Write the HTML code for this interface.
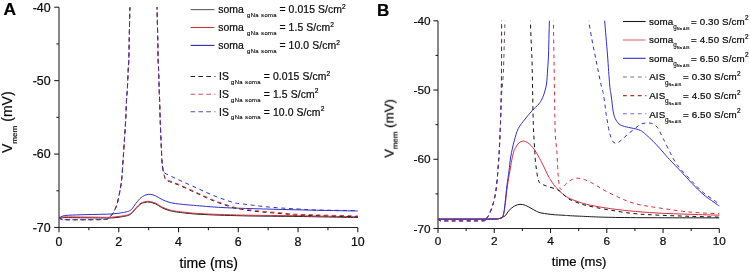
<!DOCTYPE html>
<html><head><meta charset="utf-8"><style>
html,body{margin:0;padding:0;background:#fff;}
body{width:750px;height:273px;overflow:hidden;font-family:"Liberation Sans",sans-serif;}
svg{display:block;}
text{will-change:transform;stroke:#000;stroke-width:0.22px;}
.sub{stroke-width:0.15px;}
</style></head><body>
<svg width="750" height="273" viewBox="0 0 750 273">
<rect width="750" height="273" fill="#fff"/>
<g stroke="#222" stroke-width="1.1" fill="none">
<path d="M59.0 7.2 V227.5 H357.8" stroke="#262626"/>
<path d="M54.20 7.20 H59.0"/>
<path d="M54.20 80.63 H59.0"/>
<path d="M54.20 154.07 H59.0"/>
<path d="M54.20 227.50 H59.0"/>
<path d="M56.40 43.92 H59.0"/>
<path d="M56.40 117.35 H59.0"/>
<path d="M56.40 190.78 H59.0"/>
<path d="M59.00 227.5 V232.30"/>
<path d="M118.76 227.5 V232.30"/>
<path d="M178.52 227.5 V232.30"/>
<path d="M238.28 227.5 V232.30"/>
<path d="M298.04 227.5 V232.30"/>
<path d="M357.80 227.5 V232.30"/>
<path d="M88.88 227.5 V230.30"/>
<path d="M148.64 227.5 V230.30"/>
<path d="M208.40 227.5 V230.30"/>
<path d="M268.16 227.5 V230.30"/>
<path d="M327.92 227.5 V230.30"/>
</g>
<g font-family="Liberation Sans, sans-serif" font-size="12.4" fill="#111">
<text x="50.6" y="11.50" text-anchor="end">-40</text>
<text x="50.6" y="84.93" text-anchor="end">-50</text>
<text x="50.6" y="158.37" text-anchor="end">-60</text>
<text x="50.6" y="231.80" text-anchor="end">-70</text>
<text x="59.00" y="245.6" text-anchor="middle">0</text>
<text x="118.76" y="245.6" text-anchor="middle">2</text>
<text x="178.52" y="245.6" text-anchor="middle">4</text>
<text x="238.28" y="245.6" text-anchor="middle">6</text>
<text x="298.04" y="245.6" text-anchor="middle">8</text>
<text x="357.80" y="245.6" text-anchor="middle">10</text>
</g>
<text font-family="Liberation Sans, sans-serif" font-size="17.4" font-weight="bold" x="3.5" y="15.4">A</text>
<text font-family="Liberation Sans, sans-serif" font-size="14" x="179.6" y="267.9">time (ms)</text>
<g transform="translate(12.1 153.0) rotate(-90)"><text font-family="Liberation Sans, sans-serif" font-size="14" x="0" y="0">V<tspan font-size="8.1" dy="5.2">mem</tspan><tspan dy="-5.2"> (mV)</tspan></text></g>
<defs><clipPath id="ca"><rect x="59" y="7.2" width="300" height="221"/></clipPath><clipPath id="cb"><rect x="438" y="20.8" width="282" height="208"/></clipPath></defs>
<g clip-path="url(#ca)" fill="none" stroke-width="1.0">
<path d="M59.00 218.60 C59.50 218.48 60.83 218.07 62.00 217.90 C63.17 217.73 60.33 217.60 66.00 217.60 C71.67 217.60 88.83 217.83 96.00 217.90 C103.17 217.97 105.33 218.10 109.00 218.00 C112.67 217.90 115.37 217.60 118.00 217.30 C120.63 217.00 123.05 216.53 124.80 216.20 C126.55 215.87 127.38 215.75 128.50 215.30 C129.62 214.85 130.25 214.63 131.50 213.50 C132.75 212.37 134.40 210.13 136.00 208.50 C137.60 206.87 139.43 204.73 141.10 203.70 C142.77 202.67 144.68 202.57 146.00 202.30 C147.32 202.03 147.38 201.83 149.00 202.10 C150.62 202.37 153.60 203.00 155.70 203.90 C157.80 204.80 159.40 206.42 161.60 207.50 C163.80 208.58 166.12 209.62 168.90 210.40 C171.68 211.18 173.12 211.55 178.30 212.20 C183.48 212.85 189.28 213.70 200.00 214.30 C210.72 214.90 225.93 215.43 242.60 215.80 C259.27 216.17 280.80 216.22 300.00 216.50 C319.20 216.78 348.17 217.33 357.80 217.50" stroke="#1a1a1a"/>
<path d="M59.00 217.90 C59.50 217.78 60.83 217.37 62.00 217.20 C63.17 217.03 60.33 216.90 66.00 216.90 C71.67 216.90 88.83 217.13 96.00 217.20 C103.17 217.27 105.33 217.40 109.00 217.30 C112.67 217.20 115.37 216.90 118.00 216.60 C120.63 216.30 123.05 215.83 124.80 215.50 C126.55 215.17 127.38 215.05 128.50 214.60 C129.62 214.15 130.25 213.93 131.50 212.80 C132.75 211.67 134.40 209.43 136.00 207.80 C137.60 206.17 139.43 204.03 141.10 203.00 C142.77 201.97 144.68 201.87 146.00 201.60 C147.32 201.33 147.38 201.13 149.00 201.40 C150.62 201.67 153.60 202.30 155.70 203.20 C157.80 204.10 159.40 205.72 161.60 206.80 C163.80 207.88 166.12 208.92 168.90 209.70 C171.68 210.48 173.12 210.85 178.30 211.50 C183.48 212.15 189.28 213.00 200.00 213.60 C210.72 214.20 225.93 214.73 242.60 215.10 C259.27 215.47 280.80 215.52 300.00 215.80 C319.20 216.08 348.17 216.63 357.80 216.80" stroke="#d8303c"/>
<path d="M59.00 217.90 C59.50 217.63 60.83 216.72 62.00 216.30 C63.17 215.88 63.00 215.65 66.00 215.40 C69.00 215.15 75.00 214.97 80.00 214.80 C85.00 214.63 91.17 214.52 96.00 214.40 C100.83 214.28 105.33 214.28 109.00 214.10 C112.67 213.92 115.37 213.62 118.00 213.30 C120.63 212.98 123.05 212.55 124.80 212.20 C126.55 211.85 127.38 211.65 128.50 211.20 C129.62 210.75 130.25 210.82 131.50 209.50 C132.75 208.18 134.40 205.28 136.00 203.30 C137.60 201.32 139.43 199.00 141.10 197.60 C142.77 196.20 144.42 195.43 146.00 194.90 C147.58 194.37 148.98 194.23 150.60 194.40 C152.22 194.57 153.87 195.08 155.70 195.90 C157.53 196.72 159.40 198.25 161.60 199.30 C163.80 200.35 166.12 201.43 168.90 202.20 C171.68 202.97 173.68 203.33 178.30 203.90 C182.92 204.47 187.98 204.93 196.60 205.60 C205.22 206.27 212.77 207.18 230.00 207.90 C247.23 208.62 278.70 209.38 300.00 209.90 C321.30 210.42 348.17 210.82 357.80 211.00" stroke="#3030c8"/>
<path d="M59.00 217.90 C59.42 218.12 60.33 218.90 61.50 219.20 C62.67 219.50 59.58 219.63 66.00 219.70 C72.42 219.77 93.25 219.67 100.00 219.60 C106.75 219.53 105.00 219.63 106.50 219.30 C108.00 218.97 108.18 218.27 109.00 217.60 C109.82 216.93 110.60 216.27 111.40 215.30 C112.20 214.33 112.87 213.63 113.80 211.80 C114.73 209.97 116.03 207.52 117.00 204.30 C117.97 201.08 118.83 196.55 119.60 192.50 C120.37 188.45 121.02 185.42 121.60 180.00 C122.18 174.58 122.63 166.67 123.10 160.00 C123.57 153.33 123.97 146.67 124.40 140.00 C124.83 133.33 125.35 126.67 125.70 120.00 C126.05 113.33 126.23 105.00 126.50 100.00 C126.77 95.00 127.02 95.00 127.30 90.00 C127.58 85.00 127.95 75.00 128.20 70.00 C128.45 65.00 128.63 65.00 128.80 60.00 C128.97 55.00 129.02 48.80 129.20 40.00 C129.38 31.20 129.75 14.20 129.90 7.20 C130.05 0.20 130.07 -0.47 130.10 -2.00" stroke="#1a1a1a" stroke-dasharray="4 3.7" stroke-dashoffset="0"/>
<path d="M156.80 -2.00 C156.83 -0.47 156.83 0.20 157.00 7.20 C157.17 14.20 157.62 31.20 157.80 40.00 C157.98 48.80 157.97 55.00 158.10 60.00 C158.23 65.00 158.42 65.00 158.60 70.00 C158.78 75.00 159.03 85.00 159.20 90.00 C159.37 95.00 159.43 95.00 159.60 100.00 C159.77 105.00 159.97 113.33 160.20 120.00 C160.43 126.67 160.72 133.33 161.00 140.00 C161.28 146.67 161.63 155.50 161.90 160.00 C162.17 164.50 162.35 165.08 162.60 167.00 C162.85 168.92 163.12 170.08 163.40 171.50 C163.68 172.92 163.78 174.05 164.30 175.50 C164.82 176.95 164.17 178.63 166.50 180.20 C168.83 181.77 173.28 182.73 178.30 184.90 C183.32 187.07 190.50 190.45 196.60 193.20 C202.70 195.95 208.75 198.98 214.90 201.40 C221.05 203.82 229.03 206.37 233.50 207.70 C237.97 209.03 238.38 208.83 241.70 209.40 C245.02 209.97 249.48 210.62 253.40 211.10 C257.32 211.58 261.28 211.95 265.20 212.30 C269.12 212.65 273.00 212.87 276.90 213.20 C280.80 213.53 284.75 213.98 288.60 214.30 C292.45 214.62 288.47 214.70 300.00 215.10 C311.53 215.50 348.17 216.43 357.80 216.70" stroke="#1a1a1a" stroke-dasharray="4 3.7" stroke-dashoffset="0"/>
<path d="M59.00 217.90 C59.42 218.12 60.33 218.90 61.50 219.20 C62.67 219.50 59.58 219.63 66.00 219.70 C72.42 219.77 93.25 219.67 100.00 219.60 C106.75 219.53 105.00 219.63 106.50 219.30 C108.00 218.97 108.18 218.27 109.00 217.60 C109.82 216.93 110.60 216.27 111.40 215.30 C112.20 214.33 112.87 213.63 113.80 211.80 C114.73 209.97 116.03 207.52 117.00 204.30 C117.97 201.08 118.83 196.55 119.60 192.50 C120.37 188.45 121.02 185.42 121.60 180.00 C122.18 174.58 122.63 166.67 123.10 160.00 C123.57 153.33 123.97 146.67 124.40 140.00 C124.83 133.33 125.35 126.67 125.70 120.00 C126.05 113.33 126.23 105.00 126.50 100.00 C126.77 95.00 127.02 95.00 127.30 90.00 C127.58 85.00 127.95 75.00 128.20 70.00 C128.45 65.00 128.63 65.00 128.80 60.00 C128.97 55.00 129.02 48.80 129.20 40.00 C129.38 31.20 129.75 14.20 129.90 7.20 C130.05 0.20 130.07 -0.47 130.10 -2.00" stroke="#d8303c" stroke-dasharray="4 3.7" stroke-dashoffset="0"/>
<path d="M156.80 -2.00 C156.83 -0.47 156.83 0.20 157.00 7.20 C157.17 14.20 157.62 31.20 157.80 40.00 C157.98 48.80 157.97 55.00 158.10 60.00 C158.23 65.00 158.42 65.00 158.60 70.00 C158.78 75.00 159.03 85.00 159.20 90.00 C159.37 95.00 159.43 95.00 159.60 100.00 C159.77 105.00 159.97 113.33 160.20 120.00 C160.43 126.67 160.72 133.33 161.00 140.00 C161.28 146.67 161.63 155.50 161.90 160.00 C162.17 164.50 162.35 165.08 162.60 167.00 C162.85 168.92 163.12 170.08 163.40 171.50 C163.68 172.92 163.78 174.17 164.30 175.50 C164.82 176.83 164.17 178.05 166.50 179.50 C168.83 180.95 173.28 182.03 178.30 184.20 C183.32 186.37 190.50 189.75 196.60 192.50 C202.70 195.25 208.75 198.28 214.90 200.70 C221.05 203.12 229.03 205.67 233.50 207.00 C237.97 208.33 238.38 208.13 241.70 208.70 C245.02 209.27 249.48 209.92 253.40 210.40 C257.32 210.88 261.28 211.25 265.20 211.60 C269.12 211.95 273.00 212.17 276.90 212.50 C280.80 212.83 284.75 213.28 288.60 213.60 C292.45 213.92 288.47 214.00 300.00 214.40 C311.53 214.80 348.17 215.73 357.80 216.00" stroke="#d8303c" stroke-dasharray="4 3.7" stroke-dashoffset="0"/>
<path d="M59.00 217.90 C59.42 218.12 60.33 218.90 61.50 219.20 C62.67 219.50 59.58 219.63 66.00 219.70 C72.42 219.77 93.25 219.67 100.00 219.60 C106.75 219.53 105.00 219.63 106.50 219.30 C108.00 218.97 108.18 218.27 109.00 217.60 C109.82 216.93 110.60 216.27 111.40 215.30 C112.20 214.33 112.87 213.63 113.80 211.80 C114.73 209.97 116.03 207.52 117.00 204.30 C117.97 201.08 118.83 196.55 119.60 192.50 C120.37 188.45 121.02 185.42 121.60 180.00 C122.18 174.58 122.63 166.67 123.10 160.00 C123.57 153.33 123.97 146.67 124.40 140.00 C124.83 133.33 125.35 126.67 125.70 120.00 C126.05 113.33 126.23 105.00 126.50 100.00 C126.77 95.00 127.02 95.00 127.30 90.00 C127.58 85.00 127.95 75.00 128.20 70.00 C128.45 65.00 128.63 65.00 128.80 60.00 C128.97 55.00 129.02 48.80 129.20 40.00 C129.38 31.20 129.75 14.20 129.90 7.20 C130.05 0.20 130.07 -0.47 130.10 -2.00" stroke="#3030c8" stroke-dasharray="4 3.7" stroke-dashoffset="1.5"/>
<path d="M156.80 -2.00 C156.83 -0.47 156.83 0.20 157.00 7.20 C157.17 14.20 157.62 31.20 157.80 40.00 C157.98 48.80 157.97 55.00 158.10 60.00 C158.23 65.00 158.42 65.00 158.60 70.00 C158.78 75.00 159.03 85.00 159.20 90.00 C159.37 95.00 159.43 95.00 159.60 100.00 C159.77 105.00 159.97 113.33 160.20 120.00 C160.43 126.67 160.72 133.33 161.00 140.00 C161.28 146.67 161.63 155.50 161.90 160.00 C162.17 164.50 162.35 165.08 162.60 167.00 C162.85 168.92 163.00 170.47 163.40 171.50 C163.80 172.53 163.90 172.50 165.00 173.20 C166.10 173.90 167.78 174.62 170.00 175.70 C172.22 176.78 173.87 177.67 178.30 179.70 C182.73 181.73 190.50 185.17 196.60 187.90 C202.70 190.63 208.78 193.67 214.90 196.10 C221.02 198.53 228.83 201.22 233.30 202.50 C237.77 203.78 238.35 203.33 241.70 203.80 C245.05 204.27 249.48 204.82 253.40 205.30 C257.32 205.78 261.28 206.30 265.20 206.70 C269.12 207.10 273.00 207.40 276.90 207.70 C280.80 208.00 284.75 208.27 288.60 208.50 C292.45 208.73 295.32 208.85 300.00 209.10 C304.68 209.35 307.07 209.75 316.70 210.00 C326.33 210.25 350.95 210.50 357.80 210.60" stroke="#3030c8" stroke-dasharray="4 3.7" stroke-dashoffset="1.5"/>
</g>
<path d="M190.6 9.6 H214.4" stroke="#606060" stroke-width="1.1"/>
<text font-family="Liberation Sans, sans-serif" font-size="10.4" letter-spacing="0.1" fill="#111" x="218.2" y="13.40">soma</text>
<text font-family="Liberation Sans, sans-serif" class="sub" font-size="5.9" letter-spacing="0.4" fill="#1a1a1a" x="247.0" y="16.90">gNa soma</text>
<text font-family="Liberation Sans, sans-serif" font-size="10.4" letter-spacing="0.1" fill="#111" x="279.4" y="13.40">= 0.015 S/cm<tspan font-size="6.6" dy="-4.7">2</tspan></text>
<path d="M190.6 27.5 H214.4" stroke="#c03838" stroke-width="1.1"/>
<text font-family="Liberation Sans, sans-serif" font-size="10.4" letter-spacing="0.1" fill="#111" x="218.2" y="31.30">soma</text>
<text font-family="Liberation Sans, sans-serif" class="sub" font-size="5.9" letter-spacing="0.4" fill="#1a1a1a" x="247.0" y="34.80">gNa soma</text>
<text font-family="Liberation Sans, sans-serif" font-size="10.4" letter-spacing="0.1" fill="#111" x="279.4" y="31.30">= 1.5 S/cm<tspan font-size="6.6" dy="-4.7">2</tspan></text>
<path d="M190.6 45.4 H214.4" stroke="#2a2aa8" stroke-width="1.1"/>
<text font-family="Liberation Sans, sans-serif" font-size="10.4" letter-spacing="0.1" fill="#111" x="218.2" y="49.20">soma</text>
<text font-family="Liberation Sans, sans-serif" class="sub" font-size="5.9" letter-spacing="0.4" fill="#1a1a1a" x="247.0" y="52.70">gNa soma</text>
<text font-family="Liberation Sans, sans-serif" font-size="10.4" letter-spacing="0.1" fill="#111" x="279.4" y="49.20">= 10.0 S/cm<tspan font-size="6.6" dy="-4.7">2</tspan></text>
<path d="M190.6 76.5 H215.4" stroke="#222" stroke-width="1.1" stroke-dasharray="4.5 3.4"/>
<text font-family="Liberation Sans, sans-serif" font-size="10.4" letter-spacing="0.1" fill="#111" x="219.0" y="80.30">IS</text>
<text font-family="Liberation Sans, sans-serif" class="sub" font-size="5.9" letter-spacing="0.4" fill="#1a1a1a" x="231.0" y="83.80">gNa soma</text>
<text font-family="Liberation Sans, sans-serif" font-size="10.4" letter-spacing="0.1" fill="#111" x="263.8" y="80.30">= 0.015 S/cm<tspan font-size="6.6" dy="-4.7">2</tspan></text>
<path d="M190.6 94.2 H215.4" stroke="#d05050" stroke-width="1.1" stroke-dasharray="4.5 3.4"/>
<text font-family="Liberation Sans, sans-serif" font-size="10.4" letter-spacing="0.1" fill="#111" x="219.0" y="98.00">IS</text>
<text font-family="Liberation Sans, sans-serif" class="sub" font-size="5.9" letter-spacing="0.4" fill="#1a1a1a" x="231.0" y="101.50">gNa soma</text>
<text font-family="Liberation Sans, sans-serif" font-size="10.4" letter-spacing="0.1" fill="#111" x="263.8" y="98.00">= 1.5 S/cm<tspan font-size="6.6" dy="-4.7">2</tspan></text>
<path d="M190.6 111.7 H215.4" stroke="#5050c8" stroke-width="1.1" stroke-dasharray="4.5 3.4"/>
<text font-family="Liberation Sans, sans-serif" font-size="10.4" letter-spacing="0.1" fill="#111" x="219.0" y="115.50">IS</text>
<text font-family="Liberation Sans, sans-serif" class="sub" font-size="5.9" letter-spacing="0.4" fill="#1a1a1a" x="231.0" y="119.00">gNa soma</text>
<text font-family="Liberation Sans, sans-serif" font-size="10.4" letter-spacing="0.1" fill="#111" x="263.8" y="115.50">= 10.0 S/cm<tspan font-size="6.6" dy="-4.7">2</tspan></text>
<g stroke="#222" stroke-width="1.1" fill="none">
<path d="M438.0 20.8 V228.5 H719.3" stroke="#262626"/>
<path d="M433.40 20.80 H438.0"/>
<path d="M433.40 90.03 H438.0"/>
<path d="M433.40 159.27 H438.0"/>
<path d="M433.40 228.50 H438.0"/>
<path d="M435.50 55.42 H438.0"/>
<path d="M435.50 124.65 H438.0"/>
<path d="M435.50 193.88 H438.0"/>
<path d="M438.00 228.5 V233.10"/>
<path d="M494.26 228.5 V233.10"/>
<path d="M550.52 228.5 V233.10"/>
<path d="M606.78 228.5 V233.10"/>
<path d="M663.04 228.5 V233.10"/>
<path d="M719.30 228.5 V233.10"/>
<path d="M466.13 228.5 V231.10"/>
<path d="M522.39 228.5 V231.10"/>
<path d="M578.65 228.5 V231.10"/>
<path d="M634.91 228.5 V231.10"/>
<path d="M691.17 228.5 V231.10"/>
</g>
<g font-family="Liberation Sans, sans-serif" font-size="11.8" fill="#111">
<text x="430.6" y="24.80" text-anchor="end">-40</text>
<text x="430.6" y="94.03" text-anchor="end">-50</text>
<text x="430.6" y="163.27" text-anchor="end">-60</text>
<text x="430.6" y="232.50" text-anchor="end">-70</text>
<text x="438.00" y="244.6" text-anchor="middle">0</text>
<text x="494.26" y="244.6" text-anchor="middle">2</text>
<text x="550.52" y="244.6" text-anchor="middle">4</text>
<text x="606.78" y="244.6" text-anchor="middle">6</text>
<text x="663.04" y="244.6" text-anchor="middle">8</text>
<text x="719.30" y="244.6" text-anchor="middle">10</text>
</g>
<text font-family="Liberation Sans, sans-serif" font-size="17" font-weight="bold" x="377.0" y="15.5">B</text>
<text font-family="Liberation Sans, sans-serif" font-size="13.1" x="551.8" y="266.0">time (ms)</text>
<g transform="translate(393.6 157.8) rotate(-90)"><text font-family="Liberation Sans, sans-serif" font-size="13.2" x="0" y="0">V<tspan font-size="7.9" dy="4.3">mem</tspan><tspan dy="-4.3"> (mV)</tspan></text></g>
<g clip-path="url(#cb)" fill="none" stroke-width="1.0">
<path d="M438.00 219.10 C443.33 219.10 460.50 219.12 470.00 219.10 C479.50 219.08 490.17 219.08 495.00 219.00 C499.83 218.92 497.77 218.88 499.00 218.60 C500.23 218.32 501.28 217.85 502.40 217.30 C503.52 216.75 504.60 216.45 505.70 215.30 C506.80 214.15 507.53 211.95 509.00 210.40 C510.47 208.85 512.67 207.02 514.50 206.00 C516.33 204.98 518.17 204.40 520.00 204.30 C521.83 204.20 523.67 204.75 525.50 205.40 C527.33 206.05 529.17 207.22 531.00 208.20 C532.83 209.18 534.67 210.48 536.50 211.30 C538.33 212.12 539.25 212.55 542.00 213.10 C544.75 213.65 549.33 214.23 553.00 214.60 C556.67 214.97 559.83 215.05 564.00 215.30 C568.17 215.55 568.67 215.73 578.00 216.10 C587.33 216.47 596.45 217.20 620.00 217.50 C643.55 217.80 702.75 217.83 719.30 217.90" stroke="#1a1a1a"/>
<path d="M438.00 219.10 C443.33 219.10 460.50 219.12 470.00 219.10 C479.50 219.08 490.17 219.08 495.00 219.00 C499.83 218.92 497.77 218.88 499.00 218.60 C500.23 218.32 501.57 218.40 502.40 217.30 C503.23 216.20 503.50 214.42 504.00 212.00 C504.50 209.58 504.80 207.30 505.40 202.80 C506.00 198.30 506.85 190.30 507.60 185.00 C508.35 179.70 509.20 175.17 509.90 171.00 C510.60 166.83 511.18 163.17 511.80 160.00 C512.42 156.83 512.93 154.12 513.60 152.00 C514.27 149.88 514.98 148.73 515.80 147.30 C516.62 145.87 517.63 144.35 518.50 143.40 C519.37 142.45 520.12 141.98 521.00 141.60 C521.88 141.22 522.72 140.93 523.80 141.10 C524.88 141.27 526.30 141.87 527.50 142.60 C528.70 143.33 529.80 144.27 531.00 145.50 C532.20 146.73 533.53 148.33 534.70 150.00 C535.87 151.67 536.78 153.33 538.00 155.50 C539.22 157.67 540.28 159.58 542.00 163.00 C543.72 166.42 546.92 173.27 548.30 176.00 C549.68 178.73 549.23 177.73 550.30 179.40 C551.37 181.07 553.53 184.48 554.70 186.00 C555.87 187.52 556.25 187.43 557.30 188.50 C558.35 189.57 559.17 190.85 561.00 192.40 C562.83 193.95 565.63 196.32 568.30 197.80 C570.97 199.28 573.95 200.22 577.00 201.30 C580.05 202.38 581.95 203.22 586.60 204.30 C591.25 205.38 597.87 206.72 604.90 207.80 C611.93 208.88 620.12 209.93 628.80 210.80 C637.48 211.67 646.80 212.42 657.00 213.00 C667.20 213.58 679.62 213.93 690.00 214.30 C700.38 214.67 714.42 215.05 719.30 215.20" stroke="#d8303c"/>
<path d="M438.00 219.10 C443.33 219.10 460.50 219.12 470.00 219.10 C479.50 219.08 490.17 219.08 495.00 219.00 C499.83 218.92 497.77 218.88 499.00 218.60 C500.23 218.32 501.57 218.40 502.40 217.30 C503.23 216.20 503.55 214.42 504.00 212.00 C504.45 209.58 504.60 207.30 505.10 202.80 C505.60 198.30 506.35 190.30 507.00 185.00 C507.65 179.70 508.42 175.50 509.00 171.00 C509.58 166.50 509.92 161.83 510.50 158.00 C511.08 154.17 511.83 151.00 512.50 148.00 C513.17 145.00 513.55 143.22 514.50 140.00 C515.45 136.78 516.43 132.20 518.20 128.70 C519.97 125.20 522.80 121.98 525.10 119.00 C527.40 116.02 529.72 113.30 532.00 110.80 C534.28 108.30 537.13 105.97 538.80 104.00 C540.47 102.03 541.08 100.83 542.00 99.00 C542.92 97.17 543.55 95.50 544.30 93.00 C545.05 90.50 545.95 87.83 546.50 84.00 C547.05 80.17 547.27 74.83 547.60 70.00 C547.93 65.17 548.27 60.83 548.50 55.00 C548.73 49.17 548.85 40.70 549.00 35.00 C549.15 29.30 549.32 24.97 549.40 20.80 C549.48 16.63 549.48 11.80 549.50 10.00" stroke="#3030c8"/>
<path d="M604.50 10.00 C604.53 11.80 604.20 13.30 604.70 20.80 C605.20 28.30 606.67 44.30 607.50 55.00 C608.33 65.70 609.10 78.33 609.70 85.00 C610.30 91.67 610.68 91.83 611.10 95.00 C611.52 98.17 611.87 101.32 612.20 104.00 C612.53 106.68 612.73 109.02 613.10 111.10 C613.47 113.18 613.90 114.98 614.40 116.50 C614.90 118.02 615.50 119.13 616.10 120.20 C616.70 121.27 617.33 122.13 618.00 122.90 C618.67 123.67 619.27 124.28 620.10 124.80 C620.93 125.32 621.98 125.65 623.00 126.00 C624.02 126.35 624.87 126.58 626.20 126.90 C627.53 127.22 629.30 127.53 631.00 127.90 C632.70 128.27 634.90 128.70 636.40 129.10 C637.90 129.50 638.87 129.77 640.00 130.30 C641.13 130.83 641.57 131.00 643.20 132.30 C644.83 133.60 647.60 136.03 649.80 138.10 C652.00 140.17 654.20 142.37 656.40 144.70 C658.60 147.03 660.82 149.63 663.00 152.10 C665.18 154.57 666.50 156.27 669.50 159.50 C672.50 162.73 677.25 167.52 681.00 171.50 C684.75 175.48 688.33 179.62 692.00 183.40 C695.67 187.18 699.33 191.05 703.00 194.20 C706.67 197.35 711.28 200.33 714.00 202.30 C716.72 204.27 718.42 205.38 719.30 206.00" stroke="#3030c8"/>
<path d="M438.00 219.20 C438.42 219.45 439.33 220.42 440.50 220.70 C441.67 220.98 438.08 220.88 445.00 220.90 C451.92 220.92 475.40 220.97 482.00 220.80 C488.60 220.63 483.85 220.32 484.60 219.90 C485.35 219.48 485.83 219.05 486.50 218.30 C487.17 217.55 487.83 216.82 488.60 215.40 C489.37 213.98 490.27 212.00 491.10 209.80 C491.93 207.60 492.82 205.25 493.60 202.20 C494.38 199.15 495.20 195.37 495.80 191.50 C496.40 187.63 496.78 183.42 497.20 179.00 C497.62 174.58 497.95 169.83 498.30 165.00 C498.65 160.17 498.92 157.50 499.30 150.00 C499.68 142.50 500.27 128.67 500.60 120.00 C500.93 111.33 501.00 103.67 501.30 98.00 C501.60 92.33 502.07 90.00 502.40 86.00 C502.73 82.00 503.07 78.33 503.30 74.00 C503.53 69.67 503.65 64.83 503.80 60.00 C503.95 55.17 504.05 50.00 504.20 45.00 C504.35 40.00 504.57 34.03 504.70 30.00 C504.83 25.97 504.93 24.13 505.00 20.80 C505.07 17.47 505.08 11.80 505.10 10.00" stroke="#555" stroke-dasharray="3.8 3.6"/>
<path d="M530.20 10.00 C530.23 11.80 530.22 14.97 530.40 20.80 C530.58 26.63 531.03 38.47 531.30 45.00 C531.57 51.53 531.78 52.50 532.00 60.00 C532.22 67.50 532.40 80.00 532.60 90.00 C532.80 100.00 533.00 112.50 533.20 120.00 C533.40 127.50 533.55 130.00 533.80 135.00 C534.05 140.00 534.45 145.83 534.70 150.00 C534.95 154.17 535.00 156.67 535.30 160.00 C535.60 163.33 536.08 167.00 536.50 170.00 C536.92 173.00 537.38 176.03 537.80 178.00 C538.22 179.97 538.55 180.87 539.00 181.80 C539.45 182.73 539.67 183.05 540.50 183.60 C541.33 184.15 542.70 184.60 544.00 185.10 C545.30 185.60 546.07 185.83 548.30 186.60 C550.53 187.37 555.12 188.60 557.40 189.70 C559.68 190.80 560.18 191.70 562.00 193.20 C563.82 194.70 565.80 197.15 568.30 198.70 C570.80 200.25 573.95 201.37 577.00 202.50 C580.05 203.63 581.95 204.38 586.60 205.50 C591.25 206.62 597.45 207.90 604.90 209.20 C612.35 210.50 622.62 212.32 631.30 213.30 C639.98 214.28 647.22 214.60 657.00 215.10 C666.78 215.60 679.62 215.97 690.00 216.30 C700.38 216.63 714.42 216.97 719.30 217.10" stroke="#111" stroke-dasharray="3.8 3.6"/>
<path d="M438.00 219.20 C438.42 219.45 439.33 220.42 440.50 220.70 C441.67 220.98 438.08 220.88 445.00 220.90 C451.92 220.92 475.40 220.97 482.00 220.80 C488.60 220.63 483.85 220.32 484.60 219.90 C485.35 219.48 485.83 219.05 486.50 218.30 C487.17 217.55 487.83 216.82 488.60 215.40 C489.37 213.98 490.27 212.00 491.10 209.80 C491.93 207.60 492.82 205.25 493.60 202.20 C494.38 199.15 495.20 195.37 495.80 191.50 C496.40 187.63 496.78 183.42 497.20 179.00 C497.62 174.58 497.95 169.83 498.30 165.00 C498.65 160.17 498.92 157.50 499.30 150.00 C499.68 142.50 500.28 129.17 500.60 120.00 C500.92 110.83 501.05 103.33 501.20 95.00 C501.35 86.67 501.43 82.37 501.50 70.00 C501.57 57.63 501.58 30.80 501.60 20.80 C501.62 10.80 501.60 11.80 501.60 10.00" stroke="#d8303c" stroke-dasharray="3.8 3.6"/>
<path d="M553.20 10.00 C553.23 11.80 553.27 12.47 553.40 20.80 C553.53 29.13 553.80 46.80 554.00 60.00 C554.20 73.20 554.38 87.50 554.60 100.00 C554.82 112.50 554.93 126.67 555.30 135.00 C555.67 143.33 556.38 144.17 556.80 150.00 C557.22 155.83 557.50 165.00 557.80 170.00 C558.10 175.00 558.30 177.17 558.60 180.00 C558.90 182.83 559.20 185.40 559.60 187.00 C560.00 188.60 560.77 189.17 561.00 189.60 C561.00 189.60 560.75 189.90 561.00 189.60 C561.25 189.30 561.88 188.55 562.50 187.80 C563.12 187.05 563.87 185.98 564.70 185.10 C565.53 184.22 566.60 183.25 567.50 182.50 C568.40 181.75 569.10 181.22 570.10 180.60 C571.10 179.98 572.27 179.20 573.50 178.80 C574.73 178.40 576.25 178.23 577.50 178.20 C578.75 178.17 579.78 178.35 581.00 178.60 C582.22 178.85 583.30 179.13 584.80 179.70 C586.30 180.27 588.17 181.10 590.00 182.00 C591.83 182.90 593.32 183.67 595.80 185.10 C598.28 186.53 601.23 188.62 604.90 190.60 C608.57 192.58 613.82 195.17 617.80 197.00 C621.78 198.83 625.10 200.30 628.80 201.60 C632.50 202.90 635.30 203.80 640.00 204.80 C644.70 205.80 649.90 206.52 657.00 207.60 C664.10 208.68 675.43 210.43 682.60 211.30 C689.77 212.17 693.88 212.38 700.00 212.80 C706.12 213.22 716.08 213.63 719.30 213.80" stroke="#d8303c" stroke-dasharray="3.8 3.6"/>
<path d="M438.00 219.20 C438.42 219.45 439.33 220.42 440.50 220.70 C441.67 220.98 438.08 220.88 445.00 220.90 C451.92 220.92 475.40 220.97 482.00 220.80 C488.60 220.63 483.85 220.32 484.60 219.90 C485.35 219.48 485.83 219.05 486.50 218.30 C487.17 217.55 487.83 216.82 488.60 215.40 C489.37 213.98 490.27 212.00 491.10 209.80 C491.93 207.60 492.82 205.25 493.60 202.20 C494.38 199.15 495.20 195.37 495.80 191.50 C496.40 187.63 496.78 183.42 497.20 179.00 C497.62 174.58 497.95 169.83 498.30 165.00 C498.65 160.17 498.92 157.50 499.30 150.00 C499.68 142.50 500.28 129.17 500.60 120.00 C500.92 110.83 501.05 103.33 501.20 95.00 C501.35 86.67 501.43 82.37 501.50 70.00 C501.57 57.63 501.58 30.80 501.60 20.80 C501.62 10.80 501.60 11.80 501.60 10.00" stroke="#3030c8" stroke-dasharray="3.8 3.6" stroke-dashoffset="0.6"/>
<path d="M588.30 10.00 C588.38 11.80 588.18 15.80 588.80 20.80 C589.42 25.80 590.97 34.30 592.00 40.00 C593.03 45.70 594.00 50.00 595.00 55.00 C596.00 60.00 596.90 64.63 598.00 70.00 C599.10 75.37 600.67 83.03 601.60 87.20 C602.53 91.37 602.87 90.70 603.60 95.00 C604.33 99.30 605.35 108.50 606.00 113.00 C606.65 117.50 606.98 118.97 607.50 122.00 C608.02 125.03 608.60 128.87 609.10 131.20 C609.60 133.53 610.00 134.48 610.50 136.00 C611.00 137.52 611.52 139.20 612.10 140.30 C612.68 141.40 613.33 142.10 614.00 142.60 C614.67 143.10 615.27 143.40 616.10 143.30 C616.93 143.20 617.65 142.97 619.00 142.00 C620.35 141.03 622.53 138.97 624.20 137.50 C625.87 136.03 627.33 134.58 629.00 133.20 C630.67 131.82 632.38 130.63 634.20 129.20 C636.02 127.77 638.27 125.58 639.90 124.60 C641.53 123.62 642.63 123.58 644.00 123.30 C645.37 123.02 646.85 122.88 648.10 122.90 C649.35 122.92 650.40 123.07 651.50 123.40 C652.60 123.73 653.70 124.22 654.70 124.90 C655.70 125.58 656.67 126.40 657.50 127.50 C658.33 128.60 658.92 130.00 659.70 131.50 C660.48 133.00 661.38 134.85 662.20 136.50 C663.02 138.15 663.38 138.95 664.60 141.40 C665.82 143.85 668.13 148.47 669.50 151.20 C670.87 153.93 671.63 155.70 672.80 157.80 C673.97 159.90 675.13 161.83 676.50 163.80 C677.87 165.77 678.42 166.67 681.00 169.60 C683.58 172.53 688.33 177.60 692.00 181.40 C695.67 185.20 699.33 189.27 703.00 192.40 C706.67 195.53 711.28 198.23 714.00 200.20 C716.72 202.17 718.42 203.53 719.30 204.20" stroke="#3030c8" stroke-dasharray="3.8 3.6"/>
</g>
<path d="M623.0 21.5 H645.6" stroke="#1a1a1a" stroke-width="1.1"/>
<text font-family="Liberation Sans, sans-serif" font-size="9.8" letter-spacing="0.12" fill="#111" x="649.0" y="24.50">soma</text>
<text font-family="Liberation Sans, sans-serif" class="sub" font-size="6.3" fill="#1a1a1a" x="673.3" y="28.60">g</text>
<text font-family="Liberation Sans, sans-serif" class="sub" font-size="3.8" letter-spacing="0.2" fill="#222" x="676.80" y="30.20">Na AIS</text>
<text font-family="Liberation Sans, sans-serif" font-size="9.8" letter-spacing="0.12" fill="#111" x="691.0" y="24.50">= 0.30 S/cm<tspan font-size="6.4" dy="-4.3">2</tspan></text>
<path d="M623.0 40.0 H645.6" stroke="#e06a6a" stroke-width="1.1"/>
<text font-family="Liberation Sans, sans-serif" font-size="9.8" letter-spacing="0.12" fill="#111" x="649.0" y="43.20">soma</text>
<text font-family="Liberation Sans, sans-serif" class="sub" font-size="6.3" fill="#1a1a1a" x="673.3" y="47.30">g</text>
<text font-family="Liberation Sans, sans-serif" class="sub" font-size="3.8" letter-spacing="0.2" fill="#222" x="676.80" y="48.90">Na AIS</text>
<text font-family="Liberation Sans, sans-serif" font-size="9.8" letter-spacing="0.12" fill="#111" x="691.0" y="43.20">= 4.50 S/cm<tspan font-size="6.4" dy="-4.3">2</tspan></text>
<path d="M623.0 58.3 H645.6" stroke="#3030c8" stroke-width="1.1"/>
<text font-family="Liberation Sans, sans-serif" font-size="9.8" letter-spacing="0.12" fill="#111" x="649.0" y="61.70">soma</text>
<text font-family="Liberation Sans, sans-serif" class="sub" font-size="6.3" fill="#1a1a1a" x="673.3" y="65.80">g</text>
<text font-family="Liberation Sans, sans-serif" class="sub" font-size="3.8" letter-spacing="0.2" fill="#222" x="676.80" y="67.40">Na AIS</text>
<text font-family="Liberation Sans, sans-serif" font-size="9.8" letter-spacing="0.12" fill="#111" x="691.0" y="61.70">= 6.50 S/cm<tspan font-size="6.4" dy="-4.3">2</tspan></text>
<path d="M623.0 77.0 H646.4" stroke="#777" stroke-width="1.1" stroke-dasharray="3.8 3.6"/>
<text font-family="Liberation Sans, sans-serif" font-size="9.8" letter-spacing="0.12" fill="#111" x="649.2" y="80.40">AIS</text>
<text font-family="Liberation Sans, sans-serif" class="sub" font-size="6.3" fill="#1a1a1a" x="665.0" y="84.50">g</text>
<text font-family="Liberation Sans, sans-serif" class="sub" font-size="3.8" letter-spacing="0.2" fill="#222" x="668.50" y="86.10">Na AIS</text>
<text font-family="Liberation Sans, sans-serif" font-size="9.8" letter-spacing="0.12" fill="#111" x="683.0" y="80.40">= 0.30 S/cm<tspan font-size="6.4" dy="-4.3">2</tspan></text>
<path d="M623.0 95.6 H646.4" stroke="#b83030" stroke-width="1.1" stroke-dasharray="3.8 3.6"/>
<text font-family="Liberation Sans, sans-serif" font-size="9.8" letter-spacing="0.12" fill="#111" x="649.2" y="98.90">AIS</text>
<text font-family="Liberation Sans, sans-serif" class="sub" font-size="6.3" fill="#1a1a1a" x="665.0" y="103.00">g</text>
<text font-family="Liberation Sans, sans-serif" class="sub" font-size="3.8" letter-spacing="0.2" fill="#222" x="668.50" y="104.60">Na AIS</text>
<text font-family="Liberation Sans, sans-serif" font-size="9.8" letter-spacing="0.12" fill="#111" x="683.0" y="98.90">= 4.50 S/cm<tspan font-size="6.4" dy="-4.3">2</tspan></text>
<path d="M623.0 113.8 H646.4" stroke="#6a6ad8" stroke-width="1.1" stroke-dasharray="3.8 3.6"/>
<text font-family="Liberation Sans, sans-serif" font-size="9.8" letter-spacing="0.12" fill="#111" x="649.2" y="117.60">AIS</text>
<text font-family="Liberation Sans, sans-serif" class="sub" font-size="6.3" fill="#1a1a1a" x="665.0" y="121.70">g</text>
<text font-family="Liberation Sans, sans-serif" class="sub" font-size="3.8" letter-spacing="0.2" fill="#222" x="668.50" y="123.30">Na AIS</text>
<text font-family="Liberation Sans, sans-serif" font-size="9.8" letter-spacing="0.12" fill="#111" x="683.0" y="117.60">= 6.50 S/cm<tspan font-size="6.4" dy="-4.3">2</tspan></text>
</svg>
</body></html>
